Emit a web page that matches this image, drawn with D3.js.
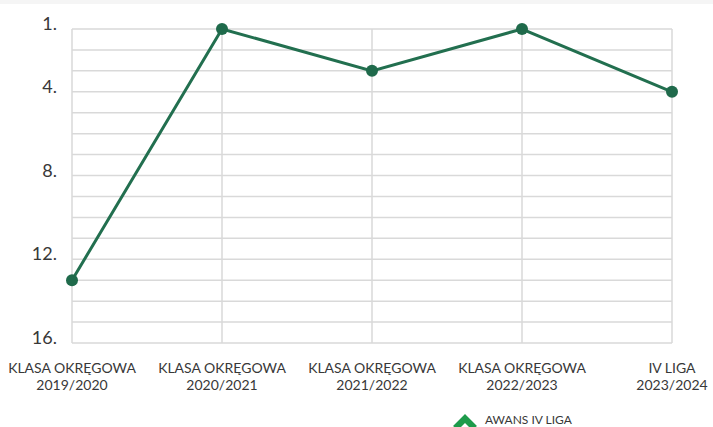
<!DOCTYPE html>
<html lang="pl">
<head>
<meta charset="UTF-8">
<title>Pozycja w lidze</title>
<script src="https://d3js.org/d3.v7.min.js"></script>
<style>
  body { margin: 0; background: #fff; }
  text { font-family: Lato, "Open Sans", sans-serif; fill: #383838; }
</style>
</head>
<body>
<div id="chart"></div>
<script>
// seasons and league positions
var leagues = ["KLASA OKRĘGOWA", "KLASA OKRĘGOWA", "KLASA OKRĘGOWA", "KLASA OKRĘGOWA", "IV LIGA"];
var seasons = ["2019/2020", "2020/2021", "2021/2022", "2022/2023", "2023/2024"];
var positions = [13, 1, 3, 1, 4];
var yTicks = [1, 4, 8, 12, 16];
var legendLabel = "AWANS IV LIGA";

var width = 713, height = 427;
var margin = { top: 29, right: 41, bottom: 84, left: 72 };

var svg = d3.select("#chart").append("svg")
    .attr("width", width)
    .attr("height", height);

// faint band at very top
svg.append("rect")
    .attr("x", 0).attr("y", 0)
    .attr("width", width).attr("height", 4)
    .attr("fill", "#f5f5f5");

var x = d3.scalePoint()
    .domain(d3.range(seasons.length))
    .range([margin.left, width - margin.right]);

var y = d3.scaleLinear()
    .domain([1, 16])
    .range([margin.top, height - margin.bottom]);

// horizontal grid, one line per position
svg.append("g")
    .selectAll("line")
    .data(d3.range(1, 17))
    .enter().append("line")
    .attr("x1", margin.left)
    .attr("x2", width - margin.right)
    .attr("y1", function (d) { return y(d); })
    .attr("y2", function (d) { return y(d); })
    .attr("stroke", "#d9d9d9")
    .attr("stroke-width", 1.5);

// vertical grid
svg.append("g")
    .selectAll("line")
    .data(d3.range(seasons.length))
    .enter().append("line")
    .attr("x1", function (d) { return x(d); })
    .attr("x2", function (d) { return x(d); })
    .attr("y1", y(1))
    .attr("y2", y(16))
    .attr("stroke", "#d9d9d9")
    .attr("stroke-width", 1.5);

// y labels
svg.append("g")
    .selectAll("text")
    .data(yTicks)
    .enter().append("text")
    .attr("x", 57)
    .attr("y", function (d) { return y(d) + 1; })
    .attr("text-anchor", "end")
    .style("font-size", "18px")
    .text(function (d) { return d + "."; });

// x labels, two lines each
var xl = svg.append("g")
    .selectAll("text")
    .data(d3.range(seasons.length))
    .enter().append("text")
    .attr("text-anchor", "middle")
    .style("font-size", "14px");

xl.append("tspan")
    .attr("x", function (d) { return x(d); })
    .attr("y", 373)
    .text(function (d) { return leagues[d]; });

xl.append("tspan")
    .attr("x", function (d) { return x(d); })
    .attr("y", 390)
    .text(function (d) { return seasons[d]; });

// line
var line = d3.line()
    .x(function (d, i) { return x(i); })
    .y(function (d) { return y(d); });

svg.append("path")
    .datum(positions)
    .attr("d", line)
    .attr("fill", "none")
    .attr("stroke", "#226f4f")
    .attr("stroke-width", 3);

svg.append("g")
    .selectAll("circle")
    .data(positions)
    .enter().append("circle")
    .attr("cx", function (d, i) { return x(i); })
    .attr("cy", function (d) { return y(d); })
    .attr("r", 6)
    .attr("fill", "#1f6a4b");

// legend: promotion marker
var lg = svg.append("g").attr("transform", "translate(465,420)");
lg.append("path")
    .attr("d", "M-12,6 L0,-6 L12,6 L7,10 L0,3 L-7,10 Z")
    .attr("fill", "#1e9b4b");
lg.append("text")
    .attr("x", 20)
    .attr("y", 4)
    .style("font-size", "12px")
    .text(legendLabel);
</script>
</body>
</html>
